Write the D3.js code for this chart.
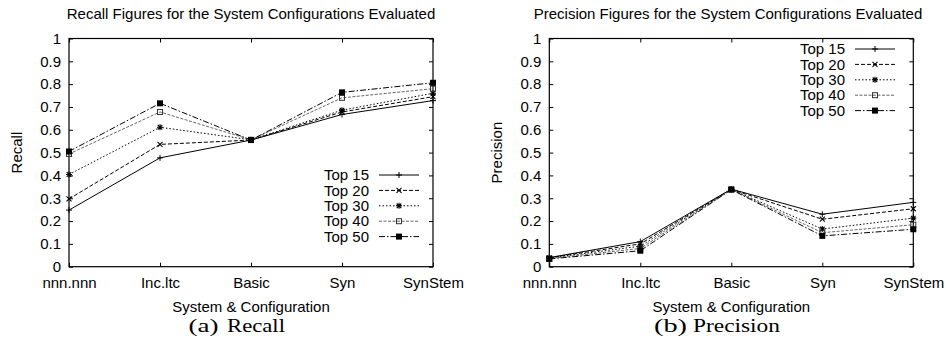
<!DOCTYPE html>
<html><head><meta charset="utf-8">
<script src="https://cdn.jsdelivr.net/npm/d3@7"></script>
<style>
body{margin:0;background:#fff;}
svg{display:block;}
text{font-family:"Liberation Sans",Arial,sans-serif;fill:#000;}
.cap{font-family:"Liberation Serif","Times New Roman",serif;}
</style></head>
<body>
<svg id="chart" width="945" height="337"></svg>
<script>
const categories = ["nnn.nnn","Inc.ltc","Basic","Syn","SynStem"];
const seriesNames = ["Top 15","Top 20","Top 30","Top 40","Top 50"];
const recallTop15 = [0.248,0.477,0.555,0.667,0.728];
const recallTop20 = [0.297,0.536,0.555,0.678,0.745];
const recallTop30 = [0.404,0.611,0.556,0.686,0.760];
const recallTop40 = [0.494,0.678,0.556,0.740,0.780];
const recallTop50 = [0.505,0.716,0.555,0.764,0.806];
const precisionTop15 = [0.040,0.110,0.340,0.230,0.282];
const precisionTop20 = [0.039,0.100,0.339,0.208,0.254];
const precisionTop30 = [0.038,0.090,0.339,0.165,0.213];
const precisionTop40 = [0.036,0.080,0.338,0.149,0.184];
const precisionTop50 = [0.034,0.070,0.338,0.135,0.164];
const yTickValues = [0,0.1,0.2,0.3,0.4,0.5,0.6,0.7,0.8,0.9,1];
const yTickLabels = ["0","0.1","0.2","0.3","0.4","0.5","0.6","0.7","0.8","0.9","1"];

const styles = [
  {dash:null, stroke:"#000", marker:"plus"},
  {dash:"4,2", stroke:"#000", marker:"cross"},
  {dash:"1.5,2", stroke:"#000", marker:"star"},
  {dash:"3,1.5", stroke:"#666", marker:"box"},
  {dash:"6,2,1.5,2", stroke:"#000", marker:"fbox"}
];

const svg = d3.select("#chart");

function marker(g, type, x, y){
  const s = 3;
  if(type==="plus"){
    g.append("path").attr("d",`M${x-s},${y}H${x+s}M${x},${y-s}V${y+s}`).attr("stroke","#000").attr("stroke-width",1);
  } else if(type==="cross"){
    g.append("path").attr("d",`M${x-2.5},${y-2.5}L${x+2.5},${y+2.5}M${x-2.5},${y+2.5}L${x+2.5},${y-2.5}`).attr("stroke","#000").attr("stroke-width",1.1);
  } else if(type==="star"){
    g.append("path").attr("d",`M${x-s},${y}H${x+s}M${x},${y-s}V${y+s}M${x-2.3},${y-2.3}L${x+2.3},${y+2.3}M${x-2.3},${y+2.3}L${x+2.3},${y-2.3}`).attr("stroke","#000").attr("stroke-width",1.1);
  } else if(type==="box"){
    g.append("rect").attr("x",x-2.5).attr("y",y-2.5).attr("width",5).attr("height",5).attr("fill","none").attr("stroke","#333").attr("stroke-width",1);
  } else if(type==="fbox"){
    g.append("rect").attr("x",x-3).attr("y",y-3).attr("width",6).attr("height",6).attr("fill","#000");
  }
}

function panel(opt){
  const x = d3.scalePoint().domain(categories).range([opt.x0, opt.x1]);
  const y = d3.scaleLinear().domain([0,1]).range([266.7, 38.5]);
  const g = svg.append("g");
  const fs = "15px";

  const yl = g.append("g").attr("transform",`translate(${opt.x0},0)`)
    .call(d3.axisLeft(y).tickValues(yTickValues).tickFormat((d,i)=>yTickLabels[i]).tickSize(-4).tickPadding(8));
  const yr = g.append("g").attr("transform",`translate(${opt.x1},0)`)
    .call(d3.axisRight(y).tickValues(yTickValues).tickFormat("").tickSize(-4));
  const xb = g.append("g").attr("transform",`translate(0,${y(0)})`)
    .call(d3.axisBottom(x).tickSize(-4).tickPadding(11));
  const xt = g.append("g").attr("transform",`translate(0,${y(1)})`)
    .call(d3.axisTop(x).tickFormat("").tickSize(-4));
  [yl,yr,xb,xt].forEach(a=>{
    a.select(".domain").remove();
    a.selectAll("line").attr("stroke","#000");
    a.selectAll("text").attr("font-family","Liberation Sans, Arial, sans-serif").attr("font-size",fs).attr("fill","#000");
  });
  g.append("rect").attr("x",opt.x0).attr("y",y(1)).attr("width",opt.x1-opt.x0).attr("height",y(0)-y(1))
    .attr("fill","none").attr("stroke","#000").attr("stroke-width",1.2);

  const line = d3.line().x((d,i)=>x(categories[i])).y(d=>y(d));
  opt.series.forEach((vals,k)=>{
    const st = styles[k];
    g.append("path").datum(vals).attr("d",line).attr("fill","none")
      .attr("stroke",st.stroke).attr("stroke-width",1).attr("stroke-dasharray",st.dash);
    vals.forEach((v,i)=>marker(g, st.marker, x(categories[i]), y(v)));
  });

  seriesNames.forEach((name,k)=>{
    const st = styles[k];
    const ly = opt.legY + k*15.4;
    g.append("text").attr("x",opt.legX).attr("y",ly).attr("dy","0.35em").attr("text-anchor","end")
      .attr("font-size",fs).text(name);
    g.append("line").attr("x1",opt.legX+10).attr("x2",opt.legX+50).attr("y1",ly).attr("y2",ly)
      .attr("stroke",st.stroke).attr("stroke-width",1).attr("stroke-dasharray",st.dash);
    marker(g, st.marker, opt.legX+30, ly);
  });

  g.append("text").attr("x",opt.titleX).attr("y",19).attr("text-anchor","middle").attr("font-size",fs).text(opt.title);
  g.append("text").attr("transform",`translate(${opt.ylabX},${y(0.5)}) rotate(-90)`).attr("text-anchor","middle")
    .attr("font-size",fs).text(opt.ylab);
  g.append("text").attr("x",(opt.x0+opt.x1)/2).attr("y",312).attr("text-anchor","middle").attr("font-size",fs).text("System & Configuration");
  g.append("text").attr("class","cap").attr("x",opt.capX1).attr("y",332).attr("font-size","18px")
    .attr("textLength",opt.capW1).attr("lengthAdjust","spacingAndGlyphs").text(opt.cap1);
  g.append("text").attr("class","cap").attr("x",opt.capX2).attr("y",332).attr("font-size","18px")
    .attr("textLength",opt.capW2).attr("lengthAdjust","spacingAndGlyphs").text(opt.cap2);
}

panel({x0:69, x1:433, series:[recallTop15,recallTop20,recallTop30,recallTop40,recallTop50],
  legX:369, legY:175, title:"Recall Figures for the System Configurations Evaluated", titleX:251,
  ylab:"Recall", ylabX:22, cap1:"(a)", capX1:188.5, capW1:30, cap2:"Recall", capX2:227, capW2:58});
panel({x0:549.3, x1:913.3, series:[precisionTop15,precisionTop20,precisionTop30,precisionTop40,precisionTop50],
  legX:845, legY:49, title:"Precision Figures for the System Configurations Evaluated", titleX:728,
  ylab:"Precision", ylabX:502, cap1:"(b)", capX1:654, capW1:33, cap2:"Precision", capX2:693, capW2:87});
</script>
</body></html>
